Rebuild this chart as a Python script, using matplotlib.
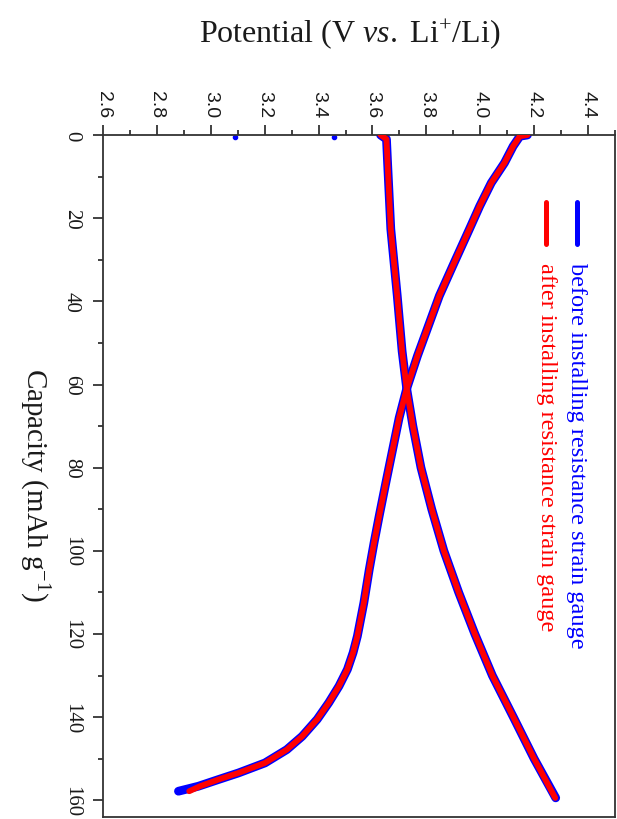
import matplotlib
matplotlib.use("Agg")
import matplotlib.pyplot as plt
from matplotlib.ticker import MultipleLocator
from matplotlib.lines import Line2D

plt.rcParams["mathtext.fontset"] = "custom"
plt.rcParams["mathtext.rm"] = "Liberation Serif"
plt.rcParams["mathtext.it"] = "Liberation Serif:italic"
plt.rcParams["mathtext.bf"] = "Liberation Serif:bold"

# ---- data (capacity in mAh/g, potential in V) ----
charge_cap = [0, 1, 6.6, 22.6, 38.7, 52, 61, 70, 80, 90, 100, 110, 120, 130, 140, 150, 159.4]
charge_before = [3.63, 3.652, 3.656, 3.668, 3.692, 3.71, 3.727, 3.75, 3.78, 3.82, 3.865, 3.92, 3.98,
                 4.045, 4.123, 4.2, 4.28]
charge_after = [3.63, 3.652, 3.656, 3.668, 3.692, 3.71, 3.727, 3.75, 3.78, 3.82, 3.865, 3.92, 3.98,
                4.045, 4.123, 4.2, 4.278]

discharge_cap = [0, 0.3, 2.7, 6.7, 11.5, 17.1, 22.6, 30.6, 38.7, 46.7, 53.1, 61, 68, 75.6, 83.5, 91.6,
                 98, 104.5, 112.5, 120.5, 124.5, 128.5, 132.5, 136.5, 140.5, 144.6, 147.8, 151.0,
                 153.4, 155.0, 156.6, 157.8]
discharge_before = [4.175, 4.147, 4.122, 4.09, 4.041, 3.998, 3.96, 3.904, 3.848, 3.803, 3.767, 3.727,
                    3.699, 3.675, 3.65, 3.625, 3.606, 3.588, 3.568, 3.544, 3.528, 3.507, 3.476, 3.438,
                    3.395, 3.339, 3.282, 3.201, 3.103, 3.028, 2.954, 2.88]
discharge_after = [4.175, 4.147, 4.122, 4.09, 4.041, 3.998, 3.96, 3.904, 3.848, 3.803, 3.767, 3.727,
                   3.699, 3.675, 3.65, 3.625, 3.606, 3.588, 3.568, 3.544, 3.528, 3.507, 3.476, 3.438,
                   3.395, 3.339, 3.282, 3.201, 3.103, 3.028, 2.96, 2.92]

stray_pot = [3.09, 3.457]
stray_cap = [0.4, 0.6]

xticks = [2.6, 2.8, 3.0, 3.2, 3.4, 3.6, 3.8, 4.0, 4.2, 4.4]
yticks = [0, 20, 40, 60, 80, 100, 120, 140, 160]

labels = ["before installing resistance strain gauge", "after installing resistance strain gauge"]
colors = ["#0000ff", "#ff0000"]

serif = ["Liberation Serif", "DejaVu Serif"]
sans = ["Liberation Sans", "DejaVu Sans"]

W, H = 617, 820
fig = plt.figure(figsize=(W / 100, H / 100), dpi=100)
ax = fig.add_axes([103 / W, 2 / H, (615 - 103) / W, (818 - 136) / H])

# before (blue, wider) underneath, after (red) on top
ax.plot(charge_before, charge_cap, color=colors[0], lw=6.3, solid_capstyle="round",
        solid_joinstyle="round", zorder=2)
ax.plot(discharge_before, discharge_cap, color=colors[0], lw=6.3, solid_capstyle="round",
        solid_joinstyle="round", zorder=2)
ax.plot(charge_after, charge_cap, color=colors[1], lw=4.2, solid_capstyle="round",
        solid_joinstyle="round", zorder=3)
ax.plot(discharge_after, discharge_cap, color=colors[1], lw=4.2, solid_capstyle="round",
        solid_joinstyle="round", zorder=3)
ax.plot(stray_pot, stray_cap, ls="none", marker="o", ms=3, color=colors[0], zorder=2)

ax.set_xlim(2.6, 4.5)
ax.set_ylim(164, 0)

spine_col = "#333333"
for s in ax.spines.values():
    s.set_color(spine_col)
    s.set_linewidth(1.3)

ax.xaxis.tick_top()
ax.set_xticks(xticks)
ax.set_xticklabels([f"{v:.1f}" for v in xticks])
ax.xaxis.set_minor_locator(MultipleLocator(0.1))
ax.set_yticks(yticks)
ax.set_yticklabels([str(v) for v in yticks])
ax.yaxis.set_minor_locator(MultipleLocator(10))

ax.tick_params(axis="x", which="both", top=True, bottom=False, direction="out",
               color=spine_col, width=1.3)
ax.tick_params(axis="y", which="both", left=True, right=False, direction="out",
               color=spine_col, width=1.3)
ax.tick_params(which="major", length=7)
ax.tick_params(which="minor", length=3.5)
ax.tick_params(axis="x", which="major", pad=6)
ax.tick_params(axis="y", which="major", pad=9)

for lab in ax.get_xticklabels():
    lab.set_rotation(-90)
    lab.set_fontfamily(sans)
    lab.set_fontsize(14)
    lab.set_color("#1a1a1a")
    lab.set_verticalalignment("bottom")
for lab in ax.get_yticklabels():
    lab.set_rotation(-90)
    lab.set_fontfamily(serif)
    lab.set_fontsize(15)
    lab.set_color("#1a1a1a")
    lab.set_horizontalalignment("right")
    lab.set_verticalalignment("center")

# axis titles
fig.text(350 / W, 1 - 34 / H, "Potential (V $\\mathit{vs.}$ Li$^{+}$/Li)", ha="center", va="center",
         fontsize=23, family=serif, color="#1a1a1a")
fig.text(34 / W, 1 - 485 / H, "Capacity (mAh g$^{-1}$)", ha="center", va="center",
         rotation=-90, fontsize=21, family=serif, color="#1a1a1a")

# legend (rotated, drawn manually in axes fraction coordinates)
leg_x = [577, 546]
for i in range(2):
    xf = (leg_x[i] - 103) / (615 - 103)
    y0 = (818 - 203) / (818 - 136)
    y1 = (818 - 245) / (818 - 136)
    ax.add_line(Line2D([xf, xf], [y0, y1], transform=ax.transAxes, color=colors[i],
                       lw=3.6, solid_capstyle="round"))
    ax.text(xf, (818 - 263) / (818 - 136), labels[i], transform=ax.transAxes,
            rotation=-90, ha="center", va="top", fontsize=17.5, family=serif, color=colors[i])

fig.savefig("out.png", dpi=100)
